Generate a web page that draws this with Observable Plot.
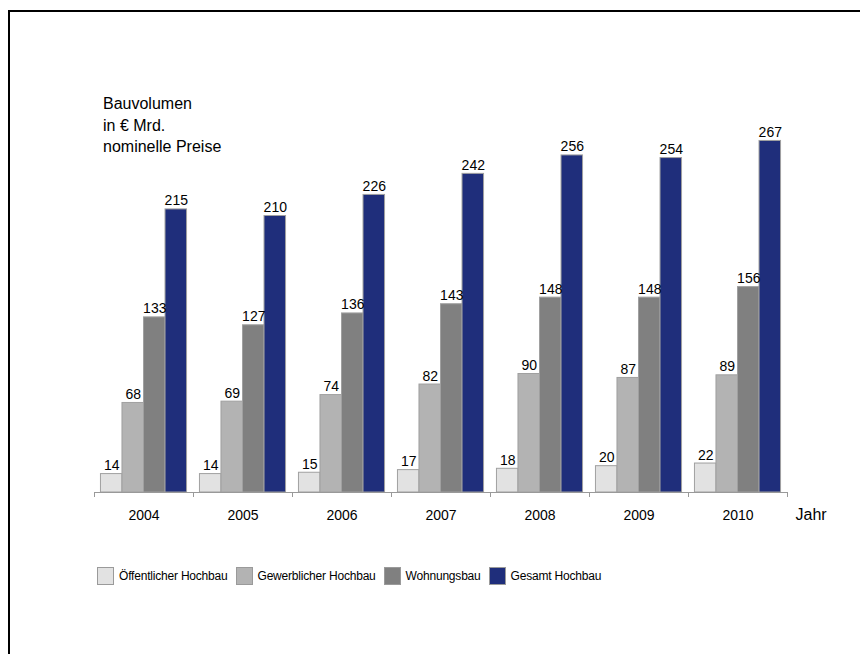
<!DOCTYPE html>
<html>
<head>
<meta charset="utf-8">
<script src="https://cdn.jsdelivr.net/npm/d3@7"></script>
<script src="https://cdn.jsdelivr.net/npm/@observablehq/plot@0.6"></script>
<style>
  html, body { margin: 0; padding: 0; background: #fff; overflow: hidden; }
  #wrap { position: relative; width: 860px; height: 654px; overflow: hidden; font-family: "Liberation Sans", Arial, sans-serif; color: #000; }
  #border { position: absolute; left: 8px; top: 10px; width: 900px; height: 700px; border-top: 2px solid #000; border-left: 2px solid #000; }
  #chart { position: absolute; left: 0; top: 0; }
  #title { position: absolute; left: 103px; top: 93px; font-size: 16px; line-height: 21.5px; }
  #legend { position: absolute; left: 97px; top: 567px; display: flex; align-items: center; font-size: 12px; letter-spacing: -0.2px; }
  .item { display: flex; align-items: center; margin-right: 8px; }
  .sw { width: 15px; height: 16px; border: 1px solid #9a9a9a; margin-right: 5px; }
</style>
</head>
<body>
<div id="wrap">
  <div id="border"></div>
  <div id="chart"></div>
  <div id="title">Bauvolumen<br>in € Mrd.<br>nominelle Preise</div>
  <div id="legend"></div>
</div>
<script>
const years = ["2004", "2005", "2006", "2007", "2008", "2009", "2010"];
const seriesNames = ["Öffentlicher Hochbau", "Gewerblicher Hochbau", "Wohnungsbau", "Gesamt Hochbau"];
const oeffentlicherHochbau = [14, 14, 15, 17, 18, 20, 22];
const gewerblicherHochbau = [68, 69, 74, 82, 90, 87, 89];
const wohnungsbau = [133, 127, 136, 143, 148, 148, 156];
const gesamtHochbau = [215, 210, 226, 242, 256, 254, 267];
const xAxisLabel = "Jahr";
const seriesColors = ["#e2e2e2", "#b3b3b3", "#808080", "#1f2e7b"];

const seriesValues = [oeffentlicherHochbau, gewerblicherHochbau, wohnungsbau, gesamtHochbau];
const rows = [];
years.forEach((year, i) => {
  seriesNames.forEach((series, j) => {
    rows.push({year, i, j, series, value: seriesValues[j][i]});
  });
});

// band layout inside each year group (outer padding 0.3 of a bar step)
const PAD = 0.3;
const STEP = 1 / (seriesNames.length + 2 * PAD);
const bx1 = d => d.i + (PAD + d.j) * STEP;
const bx2 = d => d.i + (PAD + d.j + 1) * STEP;
const bmid = d => d.i + (PAD + d.j + 0.5) * STEP;

const chart = Plot.plot({
  width: 860,
  height: 654,
  marginLeft: 94,
  marginRight: 73,
  marginTop: 97,
  marginBottom: 162,
  x: {domain: [0, years.length], axis: null},
  y: {domain: [0, 300], axis: null},
  color: {domain: seriesNames, range: seriesColors},
  style: {fontFamily: "'Liberation Sans', Arial, sans-serif", fontSize: "14px", background: "transparent", color: "#000"},
  marks: [
    Plot.rectY(rows, {x1: bx1, x2: bx2, y: "value", fill: "series", stroke: "#a0a0a0", strokeWidth: 1}),
    Plot.text(rows, {x: bmid, y: "value", text: d => String(d.value), lineAnchor: "bottom", dy: -4, fill: "#000", fontSize: 14}),
    Plot.ruleY([0], {stroke: "#999"}),
    Plot.axisX({ticks: d3.range(years.length + 1), tickSize: 5, tickFormat: () => "", stroke: "#999"}),
    Plot.text(years, {x: (d, i) => i + 0.5, frameAnchor: "bottom", dy: 27, text: d => d, fill: "#000", fontSize: 14}),
    Plot.text([xAxisLabel], {frameAnchor: "bottom-right", textAnchor: "start", dx: 8, dy: 27, text: d => d, fill: "#000", fontSize: 16})
  ]
});
document.getElementById("chart").appendChild(chart);

const legend = document.getElementById("legend");
seriesNames.forEach((name, j) => {
  const item = document.createElement("div");
  item.className = "item";
  const sw = document.createElement("div");
  sw.className = "sw";
  sw.style.background = seriesColors[j];
  const label = document.createElement("span");
  label.textContent = name;
  item.appendChild(sw);
  item.appendChild(label);
  legend.appendChild(item);
});
</script>
</body>
</html>
